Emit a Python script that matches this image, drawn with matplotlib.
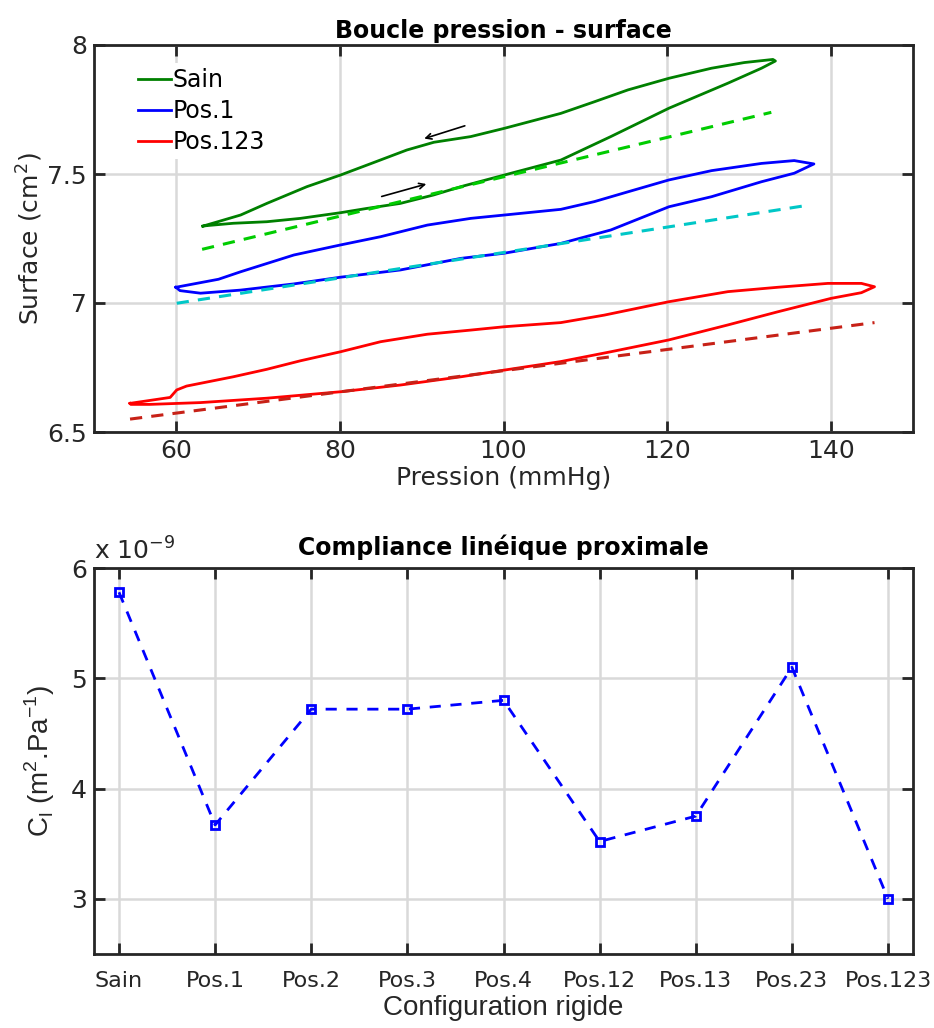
import numpy as np
import matplotlib.pyplot as plt

# --- boucle pression - surface ---
sain_p = [63.3, 67.9, 71.1, 76.0, 80.1, 84.2, 88.2, 91.5, 96.0, 100.1, 107.0, 111.1, 115.2,
          120.2, 125.4, 129.4, 132.9, 133.2, 131.5, 127.4, 120.2, 113.1, 107.0, 100.1, 94.8,
          91.5, 87.4, 83.4, 80.1, 75.2, 71.1, 67.0, 63.8, 63.3]
sain_s = [7.298, 7.341, 7.386, 7.451, 7.496, 7.545, 7.593, 7.623, 7.645, 7.677, 7.735, 7.780,
          7.826, 7.871, 7.910, 7.932, 7.944, 7.938, 7.910, 7.852, 7.755, 7.645, 7.554, 7.496,
          7.451, 7.419, 7.386, 7.367, 7.350, 7.328, 7.315, 7.309, 7.300, 7.298]

pos1_p = [60.0, 65.2, 67.9, 74.4, 80.1, 85.0, 90.7, 96.0, 100.1, 107.0, 111.1, 115.2, 120.2,
          125.4, 131.5, 135.5, 137.9, 135.5, 131.5, 125.4, 120.2, 113.1, 107.0, 100.1, 94.8,
          87.4, 80.1, 74.4, 67.9, 63.0, 60.5, 60.0]
pos1_s = [7.061, 7.092, 7.121, 7.186, 7.225, 7.257, 7.302, 7.328, 7.341, 7.363, 7.393, 7.431,
          7.477, 7.513, 7.541, 7.552, 7.539, 7.503, 7.470, 7.412, 7.373, 7.283, 7.231, 7.193,
          7.173, 7.128, 7.100, 7.074, 7.050, 7.038, 7.048, 7.061]

pos123_p = [54.4, 59.3, 60.1, 61.3, 67.0, 71.1, 75.2, 80.1, 85.0, 90.7, 96.0, 100.1, 107.0,
            112.3, 120.2, 127.4, 133.5, 139.6, 143.7, 145.3, 143.7, 140.0, 133.5, 127.4, 120.2,
            113.1, 107.0, 100.1, 94.8, 87.4, 80.1, 71.1, 63.0, 56.8, 54.5, 54.4]
pos123_s = [6.611, 6.634, 6.663, 6.678, 6.714, 6.743, 6.776, 6.811, 6.850, 6.879, 6.895, 6.908,
            6.924, 6.953, 7.005, 7.044, 7.061, 7.076, 7.076, 7.063, 7.040, 7.018, 6.966, 6.915,
            6.857, 6.811, 6.773, 6.740, 6.714, 6.682, 6.656, 6.631, 6.614, 6.607, 6.607, 6.611]

# droites de regression (extremites)
fit_sain_p, fit_sain_s = [63.2, 132.7], [7.208, 7.739]
fit_pos1_p, fit_pos1_s = [60.1, 137.4], [6.999, 7.380]
fit_pos123_p, fit_pos123_s = [54.4, 145.3], [6.550, 6.924]

# --- compliance lineique (x 1e-9) ---
configs = ['Sain', 'Pos.1', 'Pos.2', 'Pos.3', 'Pos.4', 'Pos.12', 'Pos.13', 'Pos.23', 'Pos.123']
compliance = [5.78, 3.67, 4.72, 4.72, 4.80, 3.52, 3.75, 5.10, 3.00]

dark = '#262626'
plt.rcParams['font.family'] = ['DejaVu Sans']
plt.rcParams['axes.edgecolor'] = dark
plt.rcParams['xtick.color'] = dark
plt.rcParams['ytick.color'] = dark


def matlab_axes(ax):
    ax.grid(True, color='#d9d9d9', lw=1.8)
    ax.set_axisbelow(True)
    for s in ax.spines.values():
        s.set_linewidth(2.0)
    ax.tick_params(direction='in', top=True, right=True, length=8, width=2,
                   labelsize=18, labelcolor=dark, pad=5)


fig = plt.figure(figsize=(9.34, 10.28), dpi=100)
W, H = 934.0, 1028.0
ax1 = fig.add_axes([94 / W, 1 - 432 / H, 819 / W, 387 / H])
ax2 = fig.add_axes([94 / W, 1 - 954 / H, 819 / W, 386 / H])

# haut
matlab_axes(ax1)
ax1.plot(sain_p, sain_s, color=(0, 0.5, 0), lw=2, label='Sain')
ax1.plot(pos1_p, pos1_s, color='blue', lw=2, label='Pos.1')
ax1.plot(pos123_p, pos123_s, color='red', lw=2, label='Pos.123')
ax1.plot(fit_sain_p, fit_sain_s, '--', color=(0, 0.8, 0), lw=2.2, dashes=(4, 3))
ax1.plot(fit_pos1_p, fit_pos1_s, '--', color=(0, 0.78, 0.78), lw=2.2, dashes=(4, 3))
ax1.plot(fit_pos123_p, fit_pos123_s, '--', color=(0.78, 0.13, 0.09), lw=2.2, dashes=(4, 3))
ax1.annotate('', xy=(90.0, 7.634), xytext=(95.6, 7.690),
             arrowprops=dict(arrowstyle='->', color='black', lw=1.2))
ax1.annotate('', xy=(90.9, 7.464), xytext=(84.8, 7.410),
             arrowprops=dict(arrowstyle='->', color='black', lw=1.2))
ax1.set_xlim(50, 150)
ax1.set_ylim(6.5, 8)
ax1.set_xticks([60, 80, 100, 120, 140])
ax1.set_yticks([6.5, 7, 7.5, 8])
ax1.set_yticklabels(['6.5', '7', '7.5', '8'])
ax1.set_xlabel('Pression (mmHg)', fontsize=18, color=dark, labelpad=2)
ax1.set_ylabel('Surface (cm$^2$)', fontsize=18, color=dark, labelpad=2)
ax1.set_title('Boucle pression - surface', fontsize=17, fontweight='bold', pad=5)
leg = ax1.legend(loc='upper left', bbox_to_anchor=(0.042, 0.965), frameon=True, fontsize=17,
                 handlelength=1.4, handletextpad=0.08, labelspacing=0.3, borderaxespad=0.2,
                 borderpad=0.2)
leg.get_frame().set_edgecolor('none')
leg.get_frame().set_facecolor('white')
leg.get_frame().set_alpha(1)

# bas
matlab_axes(ax2)
xpos = np.arange(1, len(configs) + 1)
ax2.plot(xpos, compliance, '--s', color='blue', lw=2, dashes=(4, 3.5), markersize=5.5,
         markerfacecolor='none', markeredgewidth=2)
ax2.set_xlim(0.74, 9.26)
ax2.set_ylim(2.5, 6)
ax2.set_xticks(xpos)
ax2.set_xticklabels(configs)
ax2.tick_params(axis='x', labelsize=16, pad=12)
ax2.set_yticks([3, 4, 5, 6])
ax2.set_xlabel('Configuration rigide', fontsize=20, color=dark, family='Liberation Sans',
               labelpad=3)
ax2.set_ylabel('C$_\\mathregular{l}$ (m$^\\mathregular{2}$.Pa$^\\mathregular{-1}$)', fontsize=20,
               color=dark, family='Liberation Sans', labelpad=10)
ax2.set_title('Compliance linéique proximale', fontsize=17, fontweight='bold', pad=9)
ax2.text(0.0, 1.01, 'x 10$^{-9}$', transform=ax2.transAxes, fontsize=18, color=dark,
         ha='left', va='bottom')

fig.savefig('out.png', dpi=100)
